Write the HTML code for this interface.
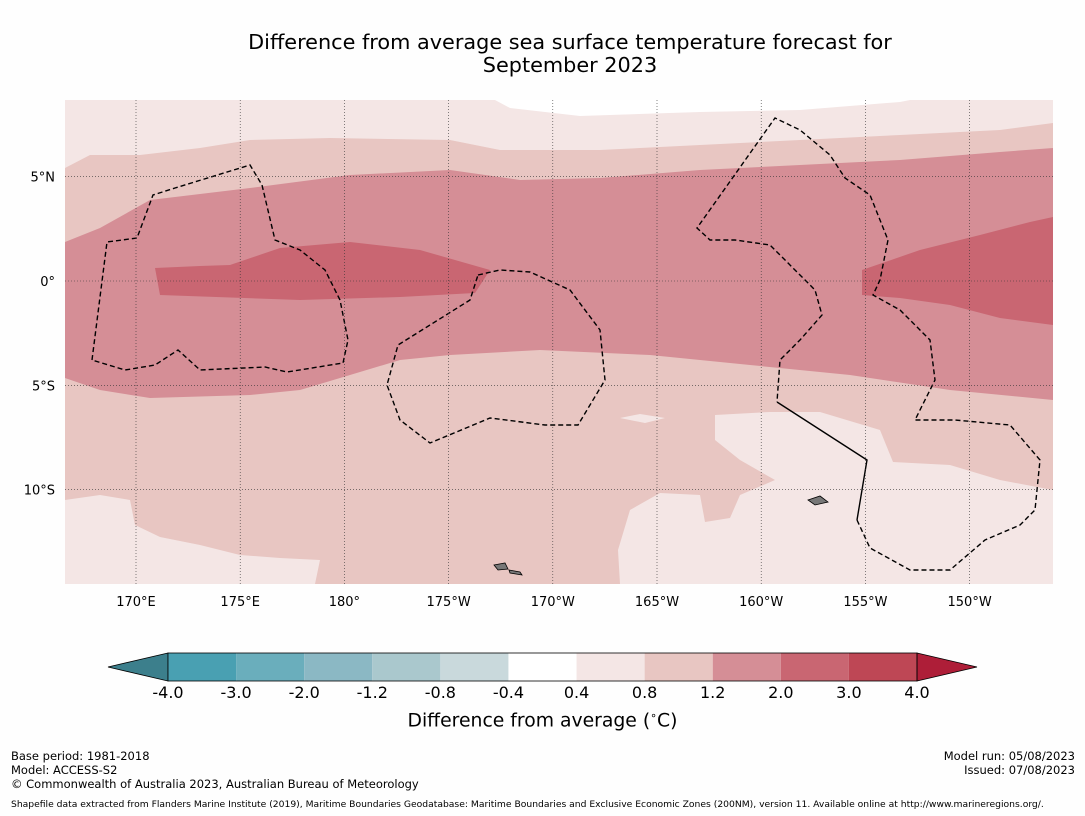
<!DOCTYPE html>
<html><head><meta charset="utf-8"><style>
body{margin:0;background:#fefefe;width:1085px;height:816px;overflow:hidden;font-family:"DejaVu Sans","Liberation Sans",sans-serif}
.t{position:absolute;color:#000}
</style></head><body>
<div class="t" style="left:0;width:1140px;top:31px;text-align:center;font-size:20.8px;line-height:23px">Difference from average sea surface temperature forecast for<br>September 2023</div>
<svg id="s" width="1085" height="816" style="position:absolute;left:0;top:0;font-family:'DejaVu Sans',sans-serif" xmlns="http://www.w3.org/2000/svg">
<defs><clipPath id="mc"><rect x="65" y="100" width="988" height="484"/></clipPath></defs>
<g clip-path="url(#mc)">
<rect x="65" y="100" width="988" height="484" fill="#e8c6c2"/>
<path fill="#f4e6e5" d="M65,100 L1053,100 L1053,123 L1000,130 L900,135 L800,140 L700,145 L600,150 L500,150 L450,140 L330,138 L250,140 L200,148 L140,155 L90,155 L65,168Z"/>
<path fill="#ffffff" d="M495,100 L510,108 L580,116 L700,112 L800,110 L900,102 L910,100Z"/>
<path fill="#d58e96" d="M65,242 L100,228 L150,200 L250,188 L350,175 L450,170 L520,180 L600,178 L700,170 L800,165 L900,160 L1000,152 L1053,148 L1053,400 L950,390 L850,375 L750,365 L650,355 L540,350 L450,355 L400,360 L350,375 L300,390 L250,395 L150,398 L100,390 L65,378Z"/>
<path fill="#c96672" d="M155,268 L200,266 L230,265 L280,248 L350,242 L420,250 L490,270 L475,293 L400,297 L300,300 L160,295Z"/>
<path fill="#c96672" d="M862,270 L920,250 L980,235 L1030,222 L1053,217 L1053,325 L1000,318 L950,305 L900,298 L862,295Z"/>
<path fill="#f4e6e5" d="M65,500 L100,495 L130,500 L135,525 L160,537 L200,545 L240,555 L280,558 L320,560 L315,584 L65,584Z"/>
<path fill="#f4e6e5" d="M620,584 L618,550 L630,510 L660,493 L700,495 L705,522 L730,518 L740,495 L775,480 L740,460 L715,440 L715,415 L770,412 L820,412 L880,430 L893,462 L950,465 L1000,480 L1053,490 L1053,584Z M620,418 L640,414 L665,418 L645,423Z"/>
<g fill="none" stroke="#000" stroke-width="1.4" stroke-dasharray="5,3">
<path d="M92,360 L107,242 L137,238 L153,195 L175,188 L250,165 L262,185 L275,240 L300,250 L325,270 L340,300 L348,340 L343,363 L287,372 L265,367 L200,370 L178,350 L155,365 L125,370 Z"/>
<path d="M478,275 L500,270 L530,272 L570,290 L600,330 L605,380 L578,425 L545,425 L490,418 L430,443 L400,420 L387,385 L398,345 L470,300 Z"/>
<path d="M857,520 L870,548 L910,570 L950,570 L985,540 L1020,525 L1035,510 L1040,460 L1010,425 L955,420 L915,420 L935,380 L930,340 L900,310 L873,295 L880,280 L888,240 L870,195 L845,178 L830,155 L800,130 L775,118 L697,228 L710,240 L735,240 L770,245 L815,290 L822,315 L800,340 L780,360 L777,402"/>
</g>
<path d="M777,402 L867,460 L857,520" fill="none" stroke="#000" stroke-width="1.4"/>
<g fill="#777" stroke="#000" stroke-width="0.8">
<path d="M494,565 L505,563 L508,569 L498,570Z"/><path d="M509,570 L520,572 L522,575 L510,573Z"/>
<path d="M808,500 L820,496 L828,502 L815,505Z"/>
</g>
<g id="grid" stroke="#333" stroke-width="0.6" stroke-dasharray="1,2"></g>
</g>
<g id="ax" font-size="13" fill="#000"></g>
<g id="cb"></g>
</svg>
<div class="t" style="left:0;width:1085px;top:709px;text-align:center;font-size:18.8px">Difference from average (<sup style="font-size:11px">∘</sup>C)</div>
<div class="t" style="left:11px;top:749px;font-size:11.5px;line-height:14px">Base period: 1981-2018<br>Model: ACCESS-S2<br>© Commonwealth of Australia 2023, Australian Bureau of Meteorology</div>
<div class="t" style="right:10px;top:749px;font-size:11.5px;line-height:14px;text-align:right">Model run: 05/08/2023<br>Issued: 07/08/2023</div>
<div class="t" style="left:11px;top:799px;font-size:9.2px;white-space:nowrap">Shapefile data extracted from Flanders Marine Institute (2019), Maritime Boundaries Geodatabase: Maritime Boundaries and Exclusive Economic Zones (200NM), version 11. Available online at http://www.marineregions.org/.</div>
<script>
const lonTicks=[170,175,180,185,190,195,200,205,210];
const lonLabels=["170°E","175°E","180°","175°W","170°W","165°W","160°W","155°W","150°W"];
const latTicks=[5,0,-5,-10];
const latLabels=["5°N","0°","5°S","10°S"];
const cbLevels=["-4.0","-3.0","-2.0","-1.2","-0.8","-0.4","0.4","0.8","1.2","2.0","3.0","4.0"];
const cbColors=["#49a0b2","#6aaebc","#8bb8c4","#aac8cd","#c9d9dc","#ffffff","#f4e6e5","#e8c6c2","#d58e96","#c96672","#be4755"];
const NS="http://www.w3.org/2000/svg";
const xL=l=>136+(l-170)*20.84, yL=a=>281-a*20.86;
function mk(t,a,p){const e=document.createElementNS(NS,t);for(const k in a)e.setAttribute(k,a[k]);p.appendChild(e);return e;}
const g=document.getElementById('grid'),ax=document.getElementById('ax'),cb=document.getElementById('cb');
lonTicks.forEach((l,i)=>{const x=xL(l);
const ln=mk('line',{x1:x,x2:x,y1:100,y2:584},g);
const t=mk('text',{x:x,y:606,'text-anchor':'middle'},ax);t.textContent=lonLabels[i];});
latTicks.forEach((a,i)=>{const y=yL(a);
const ln=mk('line',{x1:65,x2:1053,y1:y,y2:y},g);
const t=mk('text',{x:55,y:y+5,'text-anchor':'end'},ax);t.textContent=latLabels[i];});
const cx0=168,cw=(917-168)/cbColors.length,cy=653,ch=28;
let p=mk('polygon',{points:`108,${cy+ch/2} ${cx0},${cy} ${cx0},${cy+ch}`,fill:'#3c7f8c',stroke:'#000','stroke-width':0.8},cb);

cbColors.forEach((c,i)=>{const r=mk('rect',{x:cx0+i*cw,y:cy,width:cw,height:ch,fill:c},cb);
});
p=mk('polygon',{points:`917,${cy} 977,${cy+ch/2} 917,${cy+ch}`,fill:'#ae1e38',stroke:'#000','stroke-width':0.8},cb);

mk('rect',{x:cx0,y:cy,width:917-cx0,height:ch,fill:'none',stroke:'#000','stroke-width':0.8},cb);
cbLevels.forEach((v,i)=>{const t=mk('text',{x:cx0+i*cw,y:698,'text-anchor':'middle','font-size':16},cb);t.textContent=v;
});
</script>
</body></html>
